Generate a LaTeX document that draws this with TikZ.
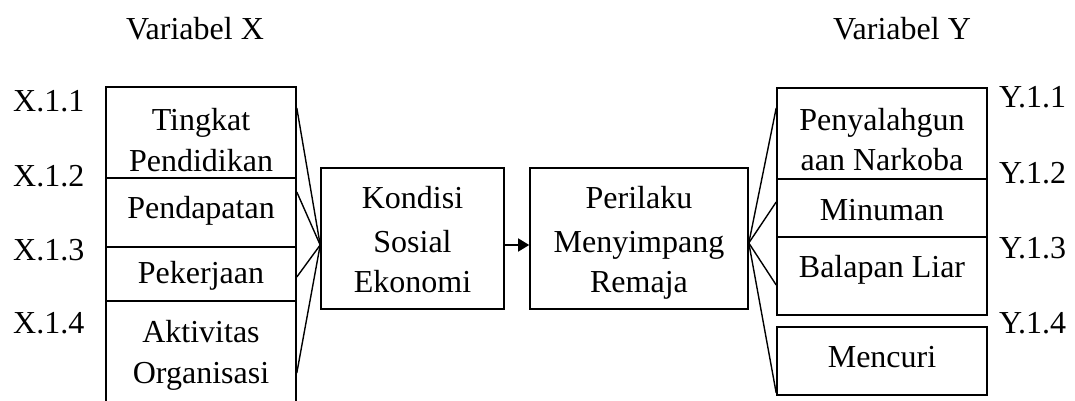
\documentclass[tikz,border=0pt]{standalone}
\usepackage{fontspec}
\setmainfont{Liberation Serif}
\usetikzlibrary{arrows.meta}
\begin{document}
\begin{tikzpicture}[x=1pt,y=-1pt,
 box/.style={draw,line width=1.6pt,inner sep=0pt},
 txt/.style={anchor=base,inner sep=0pt,font=\fontsize{32}{38}\selectfont},
 lbl/.style={txt,anchor=base west},
 link/.style={line width=1.4pt}]
\useasboundingbox (0,0) rectangle (1075,401);
% left boxes
\node[box,minimum width=190pt,minimum height=91pt] (b1) at (201,132.5) {};
\node[box,minimum width=190pt,minimum height=69pt] (b2) at (201,212.5) {};
\node[box,minimum width=190pt,minimum height=54pt] (b3) at (201,274) {};
\node[box,minimum width=190pt,minimum height=114pt] (b4) at (201,358) {};
% middle boxes
\node[box,minimum width=183pt,minimum height=141pt] (k) at (412.5,238.5) {};
\node[box,minimum width=218pt,minimum height=141pt] (p) at (639,238.5) {};
% right boxes
\node[box,minimum width=210pt,minimum height=91pt] (r1) at (882,133.5) {};
\node[box,minimum width=210pt,minimum height=58pt] (r2) at (882,208) {};
\node[box,minimum width=210pt,minimum height=78pt] (r3) at (882,276) {};
\node[box,minimum width=210pt,minimum height=68pt] (r4) at (882,361) {};
% texts
\node[txt] (vx) at (195,40) {Variabel X};
\node[txt] (vy) at (902,40) {Variabel Y};
\node[lbl] (x1) at (13,112) {X.1.1};
\node[lbl] (x2) at (13,186) {X.1.2};
\node[lbl] (x3) at (13,260) {X.1.3};
\node[lbl] (x4) at (13,333) {X.1.4};
\node[lbl] (y1) at (999,107) {Y.1.1};
\node[lbl] (y2) at (999,183) {Y.1.2};
\node[lbl] (y3) at (999,258) {Y.1.3};
\node[lbl] (y4) at (999,333) {Y.1.4};
\node[txt] (t1a) at (201,130) {Tingkat};
\node[txt] (t1b) at (201,171) {Pendidikan};
\node[txt] (t2) at (201,218) {Pendapatan};
\node[txt] (t3) at (201,283) {Pekerjaan};
\node[txt] (t4a) at (201,342) {Aktivitas};
\node[txt] (t4b) at (201,383) {Organisasi};
\node[txt] (tk1) at (412.5,208) {Kondisi};
\node[txt] (tk2) at (412.5,252) {Sosial};
\node[txt] (tk3) at (412.5,292) {Ekonomi};
\node[txt] (tp1) at (639,208) {Perilaku};
\node[txt] (tp2) at (639,252) {Menyimpang};
\node[txt] (tp3) at (639,292) {Remaja};
\node[txt] (tr1a) at (882,130) {Penyalahgun};
\node[txt] (tr1b) at (882,170) {aan Narkoba};
\node[txt] (tr2) at (882,220) {Minuman};
\node[txt] (tr3) at (882,277) {Balapan Liar};
\node[txt] (tr4) at (882,367) {Mencuri};
% connectors
\coordinate (kin) at (k.west |- 0,245);
\coordinate (pout) at (p.east |- 0,243);
\draw[link] (b1.north east |- 0,108) -- (kin);
\draw[link] (b2.north east |- 0,192) -- (kin);
\draw[link] (b3.north east |- 0,277) -- (kin);
\draw[link] (b4.north east |- 0,373) -- (kin);
\draw[link,-{Triangle[length=11pt,width=13pt]}] (k.east |- kin) -- (p.west |- kin);
\draw[link] (pout) -- (r1.north west |- 0,108);
\draw[link] (pout) -- (r2.north west |- 0,202);
\draw[link] (pout) -- (r3.north west |- 0,285);
\draw[link] (pout) -- (r4.north west |- 0,393);
\end{tikzpicture}
\end{document}
